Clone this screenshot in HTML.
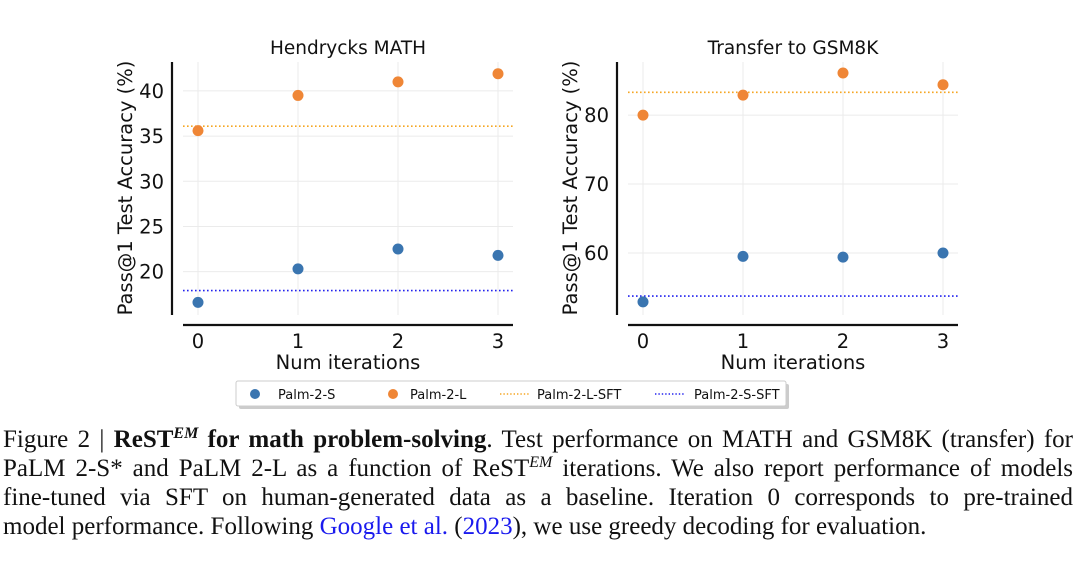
<!DOCTYPE html>
<html><head><meta charset="utf-8"><style>
body{margin:0;background:#fff;width:1080px;height:563px;overflow:hidden;position:relative}
svg{position:absolute;left:0;top:0}
.cap{position:absolute;left:3px;width:1070px;font-family:"Liberation Serif",serif;font-size:25px;color:#111;text-align:justify;text-align-last:justify;white-space:nowrap;line-height:29px}
.cap.last{text-align-last:left}
.link{color:#1a1aee}
sup{font-style:italic;font-size:16px;vertical-align:9px;line-height:0}
</style></head><body>
<svg id="chart" width="1080" height="420" font-family="DejaVu Sans, sans-serif"></svg>
<div class="cap" style="top:425px">Figure 2 | <b>ReST<sup>EM</sup> for math problem-solving</b>. Test performance on MATH and GSM8K (transfer) for</div>
<div class="cap" style="top:454px">PaLM 2-S* and PaLM 2-L as a function of ReST<sup>EM</sup> iterations. We also report performance of models</div>
<div class="cap" style="top:483px">fine-tuned via SFT on human-generated data as a baseline. Iteration 0 corresponds to pre-trained</div>
<div class="cap last" style="top:512px">model performance. Following <span class="link">Google et al.</span> (<span class="link">2023</span>), we use greedy decoding for evaluation.</div>
<script>
const iterations=[0,1,2,3];
const mathS=[16.6,20.3,22.5,21.8];
const mathL=[35.6,39.5,41.0,41.9];
const mathSFT_L=36.1, mathSFT_S=17.9;
const mathTicks=[20,25,30,35,40];
const gsmS=[52.9,59.5,59.4,60.0];
const gsmL=[80.0,82.9,86.1,84.4];
const gsmSFT_L=83.3, gsmSFT_S=53.75;
const gsmTicks=[60,70,80];
const NS='http://www.w3.org/2000/svg';
const svg=document.getElementById('chart');
function mk(tag,attrs,parent){const e=document.createElementNS(NS,tag);for(const k in attrs)e.setAttribute(k,attrs[k]);(parent||svg).appendChild(e);return e;}
function panel(cfg){
  const g=mk('g',{});
  
  
  const top=62,bot=315;
  const y=v=>top+(cfg.ymax-v)/(cfg.ymax-cfg.ymin)*(bot-top);
  const x=i=>cfg.x0+i*100;
  cfg.ticks.forEach(t=>{const l=mk('line',{x1:cfg.gx0,x2:cfg.gx1,y1:y(t),y2:y(t),stroke:'#ebebeb','stroke-width':1},g);});
  iterations.forEach(i=>{const l=mk('line',{x1:x(i),x2:x(i),y1:top,y2:bot,stroke:'#ebebeb','stroke-width':1},g);});
  const ys=mk('line',{x1:cfg.ax,x2:cfg.ax,y1:top,y2:bot,stroke:'#111','stroke-width':2.2},g);
  
  const xs=mk('line',{x1:cfg.gx0,x2:cfg.gx1,y1:325,y2:325,stroke:'#111','stroke-width':2.2},g);
  
  cfg.ticks.forEach(t=>{const tx=mk('text',{x:cfg.ax-8,y:y(t)+7,'text-anchor':'end','font-size':19.5,fill:'#111'},g);tx.textContent=t;});
  iterations.forEach(i=>{const tx=mk('text',{x:x(i),y:348,'text-anchor':'middle','font-size':19.5,fill:'#111'},g);tx.textContent=i;});
  const tt=mk('text',{x:(cfg.gx0+cfg.gx1)/2,y:54,'text-anchor':'middle','font-size':18.5,fill:'#111'},g);tt.textContent=cfg.title;
  
  const xl=mk('text',{x:(cfg.gx0+cfg.gx1)/2,y:369,'text-anchor':'middle','font-size':19.5,fill:'#111'},g);xl.textContent='Num iterations';
  
  const yl=mk('text',{x:0,y:0,'text-anchor':'middle','font-size':19.5,fill:'#111',transform:`translate(${cfg.ax-40},188) rotate(-90)`},g);yl.textContent='Pass@1 Test Accuracy (%)';
  
  const l1=mk('line',{x1:cfg.gx0,x2:cfg.gx1,y1:y(cfg.sftL),y2:y(cfg.sftL),stroke:'#f5a623','stroke-width':1.6,'stroke-dasharray':'1.6 2.4'},g);
  
  const l2=mk('line',{x1:cfg.gx0,x2:cfg.gx1,y1:y(cfg.sftS),y2:y(cfg.sftS),stroke:'#2222ee','stroke-width':1.6,'stroke-dasharray':'1.6 2.4'},g);
  
  iterations.forEach((it,k)=>{
    const c=mk('circle',{cx:x(it),cy:y(cfg.S[k]),r:5.5,fill:'#3a75b0'},g);
    
    const d=mk('circle',{cx:x(it),cy:y(cfg.L[k]),r:5.5,fill:'#ef8636'},g);
    
  });
}
panel({name:'hendrycks-math-chart',title:'Hendrycks MATH',ymin:15.2,ymax:43.2,ticks:mathTicks,x0:198,ax:172,gx0:183,gx1:513,S:mathS,L:mathL,sftL:mathSFT_L,sftS:mathSFT_S});
panel({name:'gsm8k-chart',title:'Transfer to GSM8K',ymin:51.0,ymax:87.7,ticks:gsmTicks,x0:643,ax:617,gx0:628,gx1:958,S:gsmS,L:gsmL,sftL:gsmSFT_L,sftS:gsmSFT_S});
const lg=mk('g',{});


mk('rect',{x:239,y:384,width:550,height:25,fill:'#ccc',rx:2},lg);
mk('rect',{x:236,y:381,width:550,height:25,fill:'#fff',stroke:'#ccc','stroke-width':1,rx:2},lg);
const items=[['dot','#3a75b0',255,278,'Palm-2-S'],['dot','#ef8636',393,410,'Palm-2-L'],['line','#f5a623',500,537,'Palm-2-L-SFT'],['line','#2222ee',655,694,'Palm-2-S-SFT']];
items.forEach(it=>{
  const e=mk('g',{},lg);
  
  
  if(it[0]==='dot')mk('circle',{cx:it[2],cy:394,r:5,fill:it[1]},e);
  else mk('line',{x1:it[2],x2:it[2]+30,y1:394,y2:394,stroke:it[1],'stroke-width':1.4,'stroke-dasharray':'1.4 2'},e);
  const t=mk('text',{x:it[3],y:399,'font-size':13,fill:'#111'},e);t.textContent=it[4];
});
</script>
</body></html>
